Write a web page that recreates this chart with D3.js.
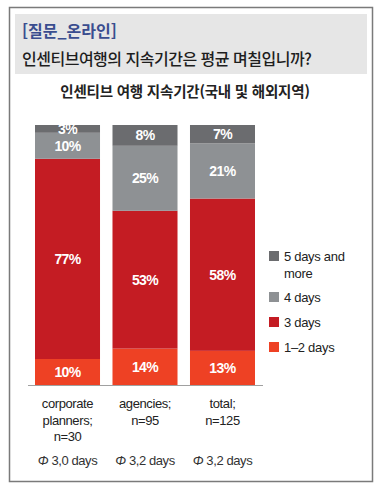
<!DOCTYPE html>
<html lang="ko">
<head>
<meta charset="utf-8">
<script src="https://cdn.jsdelivr.net/npm/d3@7"></script>
<style>
body { margin: 0; background: #fff; }
text { font-family: "Liberation Sans", Arial, sans-serif; }
.kr { font-family: "Noto Sans CJK KR", "Noto Sans", sans-serif; }
</style>
</head>
<body>
<script>
// data
var categories = ["corporate planners; n=30", "agencies; n=95", "total; n=125"];
var catLines = [["corporate", "planners;", "n=30"], ["agencies;", "n=95"], ["total;", "n=125"]];
var averages = ["3,0 days", "3,2 days", "3,2 days"];
var seriesNames = ["1–2 days", "3 days", "4 days", "5 days and more"];
var oneTwoDays = [10, 14, 13];
var threeDays = [77, 53, 58];
var fourDays = [10, 25, 21];
var fivePlus = [3, 8, 7];
var colors = ["#ee4124", "#c41c23", "#8e9194", "#6b6c6f"];

var W = 382, H = 492;
var svg = d3.select("body").append("svg").attr("width", W).attr("height", H);

// frame + header
svg.append("rect").attr("x", 9.5).attr("y", 7.5).attr("width", 363).attr("height", 474)
  .attr("fill", "none").attr("stroke", "#7a7a7a").attr("stroke-width", 1.5);
svg.append("rect").attr("x", 15).attr("y", 14).attr("width", 352).attr("height", 60).attr("fill", "#e6e6e6");
svg.append("text").attr("class", "kr").attr("x", 22).attr("y", 37)
  .style("font-size", "16px").style("font-weight", "bold").style("fill", "#3a4d8f")
  .text("[질문_온라인]");
svg.append("text").attr("class", "kr").attr("x", 22).attr("y", 65)
  .style("font-size", "16px").style("font-weight", "500").style("letter-spacing", "-0.5px").style("fill", "#1e1e1e")
  .text("인센티브여행의 지속기간은 평균 며칠입니까?");
svg.append("text").attr("class", "kr").attr("x", 185).attr("y", 97).attr("text-anchor", "middle")
  .style("font-size", "14.5px").style("font-weight", "bold").style("letter-spacing", "-0.2px").style("fill", "#222")
  .text("인센티브 여행 지속기간(국내 및 해외지역)");

// stacked data
var table = categories.map(function(c, i) {
  return { cat: c, "1–2 days": oneTwoDays[i], "3 days": threeDays[i], "4 days": fourDays[i], "5 days and more": fivePlus[i] };
});
var stack = d3.stack().keys(seriesNames).offset(d3.stackOffsetExpand);
var series = stack(table);

var x = d3.scaleBand().domain(categories).range([35, 255]).paddingInner(0.161).paddingOuter(0);
var y = d3.scaleLinear().domain([0, 1]).range([385, 125]);
var color = d3.scaleOrdinal().domain(seriesNames).range(colors);

var layer = svg.selectAll(".layer").data(series).enter().append("g")
  .attr("class", "layer").attr("fill", function(d) { return color(d.key); });

layer.selectAll("rect").data(function(d) { return d; }).enter().append("rect")
  .attr("x", function(d) { return x(d.data.cat); })
  .attr("width", x.bandwidth())
  .attr("y", function(d) { return y(d[1]); })
  .attr("height", function(d) { return y(d[0]) - y(d[1]); });

layer.selectAll("text").data(function(d) { var k = d.key; return d.map(function(p) { return { p: p, key: k }; }); })
  .enter().append("text")
  .attr("x", function(d) { return x(d.p.data.cat) + x.bandwidth() / 2; })
  .attr("y", function(d) { return (y(d.p[0]) + y(d.p[1])) / 2 + 5; })
  .attr("text-anchor", "middle")
  .style("fill", "#fff").style("font-size", "14px").style("font-weight", "bold").style("letter-spacing", "-0.6px")
  .text(function(d) { return d.p.data[d.key] + "%"; });

// baseline
svg.append("line").attr("x1", 28).attr("x2", 263).attr("y1", 385.5).attr("y2", 385.5)
  .attr("stroke", "#a0a0a0").attr("stroke-width", 1);

// category labels
var catG = svg.selectAll(".cat").data(categories).enter().append("text")
  .attr("class", "cat").attr("text-anchor", "middle")
  .style("font-size", "13px").style("letter-spacing", "-0.4px").style("fill", "#222");
catG.selectAll("tspan").data(function(d, i) { return catLines[i]; }).enter().append("tspan")
  .attr("x", function() { var c = d3.select(this.parentNode).datum(); return x(c) + x.bandwidth() / 2; })
  .attr("y", function(d, j) { return 408 + j * 16.5; })
  .text(function(d) { return d; });

var avgG = svg.selectAll(".avg").data(categories).enter().append("text")
  .attr("class", "avg").attr("text-anchor", "middle")
  .attr("x", function(d) { return x(d) + x.bandwidth() / 2; })
  .attr("y", 465)
  .style("font-size", "13px").style("letter-spacing", "-0.4px").style("fill", "#333");
avgG.append("tspan").style("font-style", "italic").text("Φ ");
avgG.append("tspan").text(function(d, i) { return averages[i]; });

// legend
var legendOrder = seriesNames.slice().reverse();
var legendY = [256, 297, 322, 347];
var lg = svg.selectAll(".legend").data(legendOrder).enter().append("g")
  .attr("class", "legend")
  .attr("transform", function(d, i) { return "translate(269," + legendY[i] + ")"; });
lg.append("rect").attr("x", 0).attr("y", -5).attr("width", 10).attr("height", 10)
  .attr("fill", function(d) { return color(d); });
lg.append("text").attr("x", 15).attr("y", 5)
  .style("font-size", "13px").style("letter-spacing", "-0.3px").style("fill", "#222")
  .each(function(d) {
    var t = d3.select(this);
    if (d === "5 days and more") {
      t.append("tspan").attr("x", 15).text("5 days and");
      t.append("tspan").attr("x", 15).attr("dy", 16.5).text("more");
    } else {
      t.text(d);
    }
  });
</script>
</body>
</html>
